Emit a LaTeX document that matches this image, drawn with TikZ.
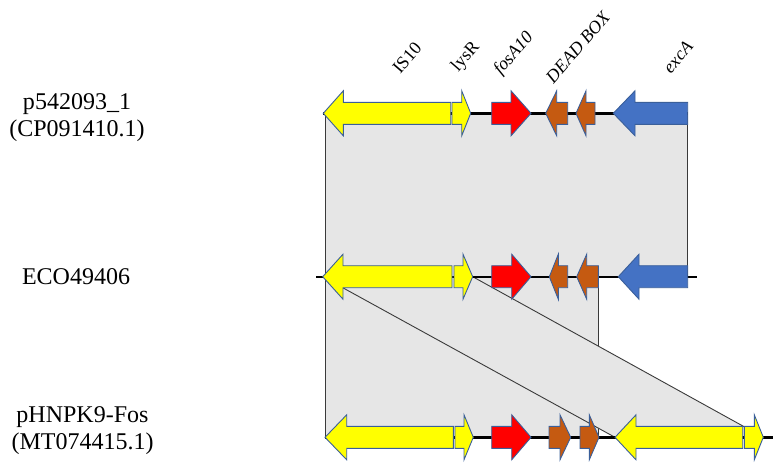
\documentclass[tikz,border=0pt]{standalone}
\usepackage{fontspec}
\setmainfont{Liberation Serif}
\definecolor{geneYellow}{HTML}{FFFF00}
\definecolor{geneRed}{HTML}{FF0000}
\definecolor{geneBrown}{HTML}{C55A11}
\definecolor{geneBlue}{HTML}{4472C4}
\definecolor{geneEdge}{HTML}{3A5F9A}
\definecolor{shadeFill}{HTML}{E6E6E6}
\definecolor{shadeEdge}{HTML}{3A3A3A}
\tikzset{
  genestyle/.style={draw=geneEdge, line width=0.9pt, line join=miter},
  shade/.style={fill=shadeFill, draw=shadeEdge, line width=0.9pt},
  backbone/.style={draw=black, line width=2.4pt},
  genelabel/.style={font=\fontsize{18}{20}\selectfont, rotate=49, inner sep=0pt},
  rowlabel/.style={font=\fontsize{24}{27}\selectfont, align=center, inner sep=0pt},
}
% right-pointing arrow: tail, tip, y, head length, colour
\newcommand\gArrR[5]{\filldraw[genestyle, fill=#5] (#1,{#3-11}) -- ({#2-#4},{#3-11}) -- ({#2-#4},{#3-22.5}) -- (#2,#3) -- ({#2-#4},{#3+22.5}) -- ({#2-#4},{#3+11}) -- (#1,{#3+11}) -- cycle;}
% left-pointing arrow: tip, tail, y, head length, colour
\newcommand\gArrL[5]{\filldraw[genestyle, fill=#5] (#2,{#3-11}) -- ({#1+#4},{#3-11}) -- ({#1+#4},{#3-22.5}) -- (#1,#3) -- ({#1+#4},{#3+22.5}) -- ({#1+#4},{#3+11}) -- (#2,{#3+11}) -- cycle;}
\begin{document}
\begin{tikzpicture}[x=1pt,y=-1pt]
\useasboundingbox (0,0) rectangle (773,463);
% shaded homology blocks
\draw[shade] (325,113.3) rectangle (687.7,276.7);
\draw[shade] (325,276.7) rectangle (598.3,437.3);
\draw[shade] (322.7,276.7) -- (472.7,276.7) -- (763.3,437.3) -- (615,437.3) -- cycle;
% backbones
\coordinate (r1a) at (323,113.3); \coordinate (r1b) at (688,113.3);
\coordinate (r2a) at (316,276.7); \coordinate (r2b) at (697,276.7);
\coordinate (r3a) at (325,437.3); \coordinate (r3b) at (773,437.3);
\draw[backbone] (r1a) -- (r1b);
\draw[backbone] (r2a) -- (r2b);
\draw[backbone] (r3a) -- (r3b);
% row 1
\gArrL{323.3}{450.7}{113.3}{20}{geneYellow}
\gArrR{452}{470.7}{113.3}{9}{geneYellow}
\gArrR{491.7}{531}{113.3}{20}{geneRed}
\gArrL{545.7}{567.7}{113.3}{11}{geneBrown}
\gArrL{576}{595}{113.3}{10}{geneBrown}
\gArrL{613.3}{687.7}{113.3}{21.7}{geneBlue}
% row 2
\gArrL{322.7}{452}{276.7}{20.3}{geneYellow}
\gArrR{454}{472.7}{276.7}{9.7}{geneYellow}
\gArrR{491.7}{531}{276.7}{19.3}{geneRed}
\gArrL{549.3}{567.7}{276.7}{9}{geneBrown}
\gArrL{576.7}{598.3}{276.7}{10}{geneBrown}
\gArrL{618.3}{687.7}{276.7}{20.7}{geneBlue}
% row 3
\gArrL{325}{453.3}{437.3}{21.7}{geneYellow}
\gArrR{455}{473.3}{437.3}{9.3}{geneYellow}
\gArrR{491.7}{531}{437.3}{19.3}{geneRed}
\gArrR{549}{570.7}{437.3}{10.7}{geneBrown}
\gArrR{580}{599}{437.3}{9.7}{geneBrown}
\gArrL{615}{742.7}{437.3}{21}{geneYellow}
\gArrR{744.3}{763.3}{437.3}{9}{geneYellow}
% gene labels
\node[genelabel] (lIS) at (407,58) {IS10};
\node[genelabel] (llys) at (466,57) {lysR};
\node[genelabel] (lfos) at (514,54) {\textit{fosA10}};
\node[genelabel] (ldead) at (578,47) {\textit{DEAD BOX}};
\node[genelabel] (lexc) at (678,57) {\textit{excA}};
% row labels
\node[rowlabel] (n1) at (77,117.5) {p542093\_1\\(CP091410.1)};
\node[rowlabel] (n2) at (76,276.7) {ECO49406};
\node[rowlabel] (n3) at (82.5,430.5) {pHNPK9-Fos\\(MT074415.1)};
\end{tikzpicture}
\end{document}
